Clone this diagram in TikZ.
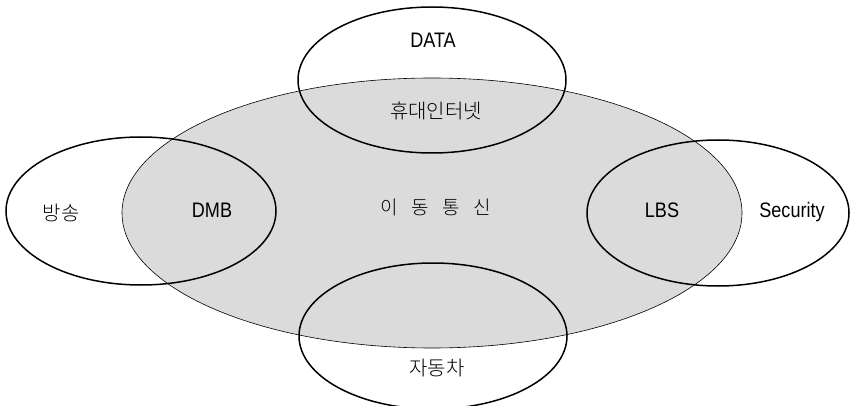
\documentclass[tikz,border=0pt]{standalone}
\usepackage{fontspec}
\setmainfont{Liberation Sans}[FakeStretch=0.86]
\newfontfamily\kr{Noto Sans CJK KR Light}
\newfontfamily\krwide{Noto Sans CJK KR Light}[WordSpace=3.2]
\usetikzlibrary{shapes.geometric,positioning}

\begin{document}
\begin{tikzpicture}[
    x=1pt, y=-1pt,
    core/.style={ellipse, draw=black, line width=0.6pt, fill=gray!28, inner sep=0pt},
    area/.style={ellipse, draw=black, line width=1.5pt, inner sep=0pt},
    lbl/.style={font=\fontsize{21}{21}\selectfont, inner sep=0pt},
    klbl/.style={font=\kr\fontsize{20}{20}\selectfont, inner sep=0pt}
]
    \useasboundingbox (0,0) rectangle (851,406);

    % mobile core and the four fields around it
    \node[core, minimum width=620pt, minimum height=270pt] (mobile) at (432,213) {};
    \node[area, minimum width=268pt, minimum height=146pt] (data) at (432,80) {};
    \node[area, minimum width=270pt, minimum height=148pt] (bcast) at (141,211) {};
    \node[area, minimum width=262pt, minimum height=146pt] (secur) at (718,213) {};
    \node[area, minimum width=268pt, minimum height=146pt] (car) at (433,336) {};

    \node[font=\krwide\fontsize{19}{19}\selectfont, inner sep=0pt] (mobiletxt) at (436,207) {이 동 통 신};

    \node[lbl] (datatxt) at (433,40) {DATA};
    \node[klbl] (wibro) at (436,111) {휴대인터넷};
    \node[klbl] (bcasttxt) at (61,213) {방송};
    \node[lbl] (dmb) at (212,210) {DMB};
    \node[lbl] (lbs) at (662,210) {LBS};
    \node[lbl] (securtxt) at (792,212) {Security};
    \node[klbl] (cartxt) at (437,368) {자동차};
\end{tikzpicture}
\end{document}
